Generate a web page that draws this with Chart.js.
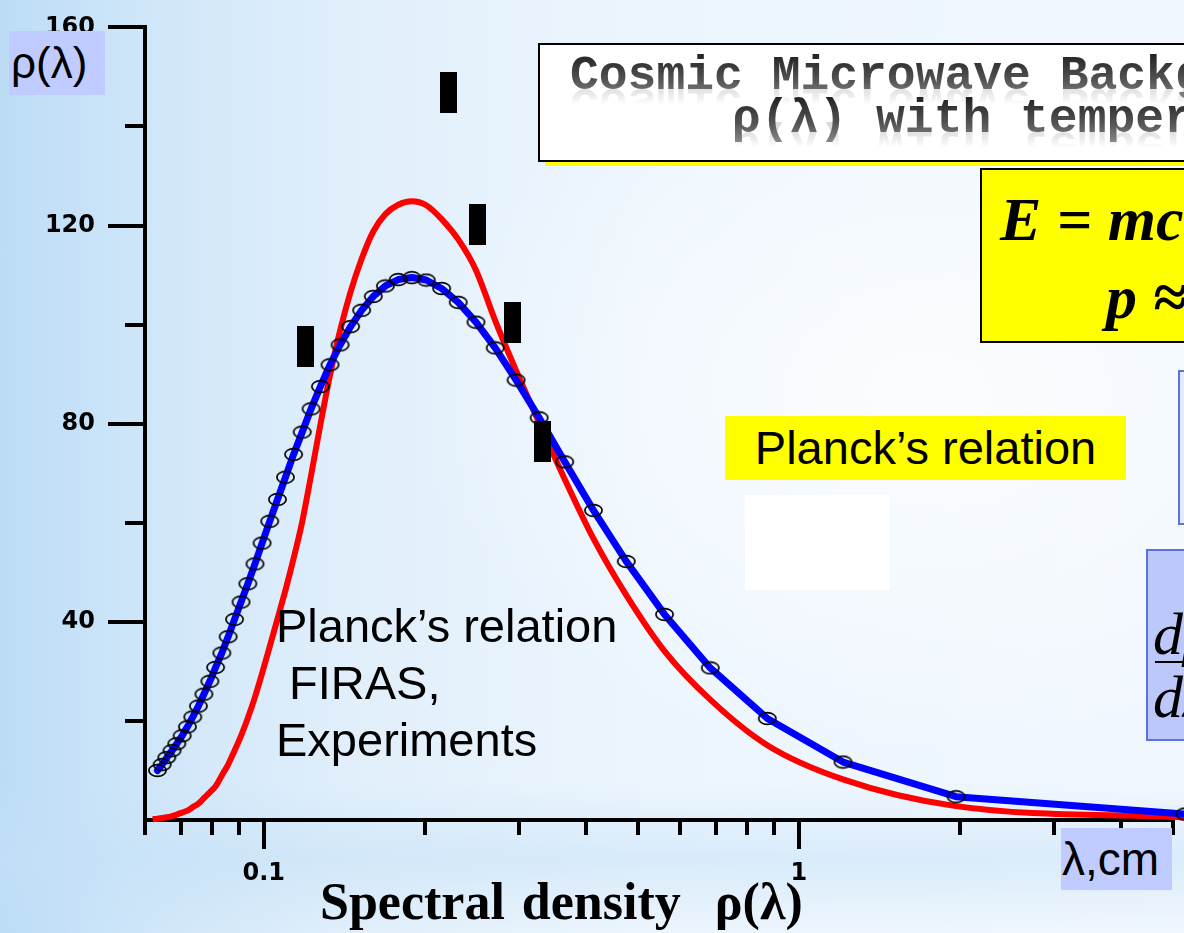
<!DOCTYPE html>
<html>
<head>
<meta charset="utf-8">
<title>Spectral density ρ(λ)</title>
<script src="https://cdn.jsdelivr.net/npm/chart.js@4.4.1/dist/chart.umd.min.js"></script>
<style>
  html, body { margin: 0; padding: 0; }
  #slide {
    position: relative;
    width: 1184px;
    height: 933px;
    overflow: hidden;
    background:
      radial-gradient(ellipse 720px 520px at 78% 42%, rgba(251,253,255,0.95), rgba(251,253,255,0) 72%),
      linear-gradient(180deg, rgba(0,0,0,0) 84%, rgba(196,224,247,0.5) 92%, rgba(0,0,0,0) 100%),
      linear-gradient(90deg, #bcdcf6 0%, #cfe6f9 12%, #e1effb 30%, #ecf5fd 55%, #f1f7fe 100%);
  }
  #chart { position: absolute; left: 0; top: 0; }
  .abs { position: absolute; box-sizing: border-box; white-space: pre; line-height: 1; }
  .sans { font-family: 'Liberation Sans', Arial, sans-serif; }
  .serif { font-family: 'Liberation Serif', 'Times New Roman', serif; }
  .tag { background: #c0cbff; }
  #titleBox { left: 538px; top: 43px; width: 720px; height: 119px; background: #fff;
              border: 2px solid #000; box-shadow: 7px 4px 0 #ffff00; }
  .mono { position: absolute; line-height: 1; white-space: pre;
          font-family: 'Liberation Mono', 'Courier New', monospace; font-weight: bold; font-size: 48px;
          background: linear-gradient(180deg, #1e1e1e 0%, #555 60%, #8a8a8a 100%);
          -webkit-background-clip: text; background-clip: text; color: transparent;
          -webkit-box-reflect: below -22px linear-gradient(transparent 45%, rgba(255,255,255,0.35)); }
  #energyBox { left: 980px; top: 168px; width: 260px; height: 175px; background: #ffff00; border: 2px solid #000; }
  .formula { position: absolute; line-height: 1; white-space: pre; font-family: 'Liberation Serif', 'Times New Roman', serif;
             font-style: italic; font-weight: bold; font-size: 62px; color: #000; }
  .blueBox { border: 2px solid #5d72d9; }
</style>
</head>
<body>
<div id="slide">
  <canvas id="chart" width="1184" height="933"></canvas>

  <div class="abs sans tag" style="left:9px;top:31px;width:96px;height:64px;font-size:44px;line-height:64px;padding-left:2px;">ρ(λ)</div>

  <div class="abs" id="titleBox">
    <span class="mono" style="left:30px;top:7px;">Cosmic Microwave Background</span>
    <span class="mono" style="left:192px;top:50px;">ρ(λ) with temperature</span>
  </div>

  <div class="abs" id="energyBox">
    <span class="formula" style="left:18px;top:18px;">E = mc²</span>
    <span class="formula" style="left:124px;top:96px;">p ≈ h/λ</span>
  </div>

  <div class="abs blueBox" style="left:1178px;top:370px;width:60px;height:155px;background:rgba(205,214,252,0.45);"></div>
  <div class="abs blueBox" style="left:1146px;top:549px;width:80px;height:192px;background:#bdc8fa;">
    <span class="abs serif" style="left:5px;top:53px;font-size:60px;font-style:italic;">dρ</span>
    <div class="abs" style="left:7px;top:110px;width:80px;height:2px;background:#000;"></div>
    <span class="abs serif" style="left:5px;top:116px;font-size:60px;font-style:italic;">dλ</span>
  </div>

  <div class="abs sans" style="left:725px;top:416px;width:401px;height:64px;background:#ffff00;font-size:47px;line-height:64px;text-align:center;">Planck’s relation</div>
  <div class="abs" style="left:745px;top:495px;width:145px;height:95px;background:#fff;"></div>

  <div class="abs sans" style="left:276px;top:597px;font-size:47px;line-height:57px;">Planck’s relation
 FIRAS,
Experiments</div>

  <div class="abs sans tag" style="left:1061px;top:828px;width:111px;height:62px;font-size:46px;line-height:62px;padding-left:1px;">λ,cm</div>

  <div class="abs serif" style="left:320px;top:876px;font-size:52px;font-weight:bold;word-spacing:4px;">Spectral density  ρ(λ)</div>
</div>

<script>
// Wavelength grid, cm (ascending)
const wavelengths = [
  0.0620, 0.0633, 0.0646, 0.0659, 0.0674, 0.0688, 0.0704, 0.0720, 0.0737, 0.0755,
  0.0773, 0.0793, 0.0813, 0.0835, 0.0858, 0.0882, 0.0907, 0.0934, 0.0963, 0.0993,
  0.1026, 0.1061, 0.1098, 0.1137, 0.1180, 0.1226, 0.1276, 0.1330, 0.1389, 0.1453,
  0.1524, 0.1602, 0.1688, 0.1784, 0.1891, 0.2012, 0.2150, 0.2309, 0.2492, 0.2707,
  0.2962, 0.3271, 0.3651, 0.4132, 0.4758, 0.5609, 0.6829, 0.8728, 1.209, 1.966, 5.263
];

// FIRAS spectrum (blue line with open markers)
const firasValues = [
  null, 10.0, 11.2, 12.6, 14.0, 15.4, 17.0, 18.8, 20.8, 23.0,
  25.4, 28.0, 30.8, 33.7, 37.0, 40.5, 44.0, 47.7, 51.7, 55.9,
  60.3, 64.7, 69.2, 73.8, 78.3, 83.0, 87.5, 91.9, 95.9, 99.6,
  102.9, 105.7, 107.8, 109.1, 109.5, 109.0, 107.3, 104.5, 100.5, 95.3,
  88.8, 81.2, 72.3, 62.5, 52.2, 41.5, 30.7, 20.5, 11.7, 4.7, 1.2
];

// Planck's relation (red line)
const planckValues = [
  0.15, 0.25, 0.4, 0.55, 0.8, 1.1, 1.5, 1.9, 2.6, 3.3,
  4.4, 5.6, 6.8, 9.0, 11.2, 14.0, 17.0, 20.6, 24.8, 29.6,
  35.0, 40.6, 46.4, 52.8, 60.2, 69.6, 79.8, 89.8, 98.8, 106.6,
  113.3, 118.8, 122.3, 124.2, 124.9, 124.1, 121.3, 117.2, 111.0, 100.8,
  90.7, 80.2, 68.8, 56.8, 45.4, 34.1, 24.3, 15.1, 8.2, 2.8, 0.5
];

// Experiments (black bars)
const expWavelengths = [0.1198, 0.2213, 0.2512, 0.2913, 0.3316];
const expValues = [95.5, 146.9, 120.3, 100.5, 76.5];

const xTicks = [0.06, 0.07, 0.08, 0.09, 0.1, 0.2, 0.3, 0.4, 0.5, 0.6, 0.7, 0.8, 0.9, 1, 2, 3, 4, 5];
const xLabelTicks = [0.1, 1];
const yTicks = [20, 40, 60, 80, 100, 120, 140, 160];
const yLabelTicks = [40, 80, 120, 160];

function ringMarker() {
  const c = document.createElement('canvas');
  c.width = 21;
  c.height = 15;
  const g = c.getContext('2d');
  g.strokeStyle = '#000';
  g.lineWidth = 1.7;
  g.beginPath();
  g.ellipse(10.5, 7.5, 8.6, 5.8, 0, 0, Math.PI * 2);
  g.stroke();
  return c;
}

function barMarker() {
  const c = document.createElement('canvas');
  c.width = 17;
  c.height = 41;
  const g = c.getContext('2d');
  g.fillStyle = '#000';
  g.fillRect(0, 0, 17, 41);
  return c;
}

// short/long tick marks on both axes
const axisTicks = {
  id: 'axisTicks',
  afterDraw(chart) {
    const { ctx, scales: { x, y } } = chart;
    ctx.save();
    ctx.strokeStyle = '#000';
    ctx.lineWidth = 4;
    xTicks.forEach(v => {
      const px = Math.round(x.getPixelForValue(v));
      const len = xLabelTicks.includes(v) ? 29 : 15;
      ctx.beginPath();
      ctx.moveTo(px, x.top);
      ctx.lineTo(px, x.top + len);
      ctx.stroke();
    });
    yTicks.forEach(v => {
      const py = Math.round(y.getPixelForValue(v));
      const len = yLabelTicks.includes(v) ? 37 : 20;
      ctx.beginPath();
      ctx.moveTo(y.right, py);
      ctx.lineTo(y.right - len, py);
      ctx.stroke();
    });
    ctx.restore();
  }
};

const tickFont = { family: 'DejaVu Sans', size: 24, weight: 'bold' };

new Chart(document.getElementById('chart'), {
  type: 'line',
  data: {
    datasets: [
      {
        label: 'Experiments',
        data: expWavelengths.map((x, i) => ({ x, y: expValues[i] })),
        showLine: false,
        pointStyle: barMarker(),
        pointRadius: 21,
        clip: false
      },
      {
        label: 'FIRAS',
        data: wavelengths.map((x, i) => ({ x, y: firasValues[i] })),
        borderColor: '#0000ff',
        borderWidth: 7,
        borderCapStyle: 'round',
        borderJoinStyle: 'round',
        tension: 0,
        pointStyle: ringMarker(),
        pointRadius: 12,
        clip: false
      },
      {
        label: "Planck's relation",
        data: wavelengths.map((x, i) => ({ x, y: planckValues[i] })),
        borderColor: '#ff0000',
        borderWidth: 6,
        borderJoinStyle: 'round',
        cubicInterpolationMode: 'monotone',
        pointRadius: 0,
        clip: false
      }
    ]
  },
  options: {
    responsive: false,
    animation: false,
    events: [],
    devicePixelRatio: 1,
    layout: { padding: { left: 0, right: 11, top: 20, bottom: 0 }, autoPadding: false },
    plugins: { legend: { display: false }, tooltip: { enabled: false } },
    scales: {
      x: {
        type: 'logarithmic',
        min: 0.06,
        max: 5,
        afterBuildTicks: s => { s.ticks = xTicks.map(v => ({ value: v })); },
        afterFit: s => { s.height = 113; },
        grid: { drawOnChartArea: false, drawTicks: true, tickLength: 29, tickColor: 'rgba(0,0,0,0)' },
        border: { display: true, color: '#000', width: 4 },
        ticks: {
          autoSkip: false,
          maxRotation: 0,
          padding: 10,
          color: '#000',
          font: tickFont,
          callback: v => xLabelTicks.includes(v) ? String(v) : ''
        }
      },
      y: {
        type: 'linear',
        min: 0,
        max: 160,
        afterBuildTicks: s => { s.ticks = yTicks.map(v => ({ value: v })); },
        afterFit: s => { s.width = 145; },
        grid: { drawOnChartArea: false, drawTicks: true, tickLength: 37, tickColor: 'rgba(0,0,0,0)' },
        border: { display: true, color: '#000', width: 4 },
        ticks: {
          padding: 13,
          color: '#000',
          font: tickFont,
          callback: v => yLabelTicks.includes(v) ? String(v) : ''
        }
      }
    }
  },
  plugins: [axisTicks]
});
</script>
</body>
</html>
